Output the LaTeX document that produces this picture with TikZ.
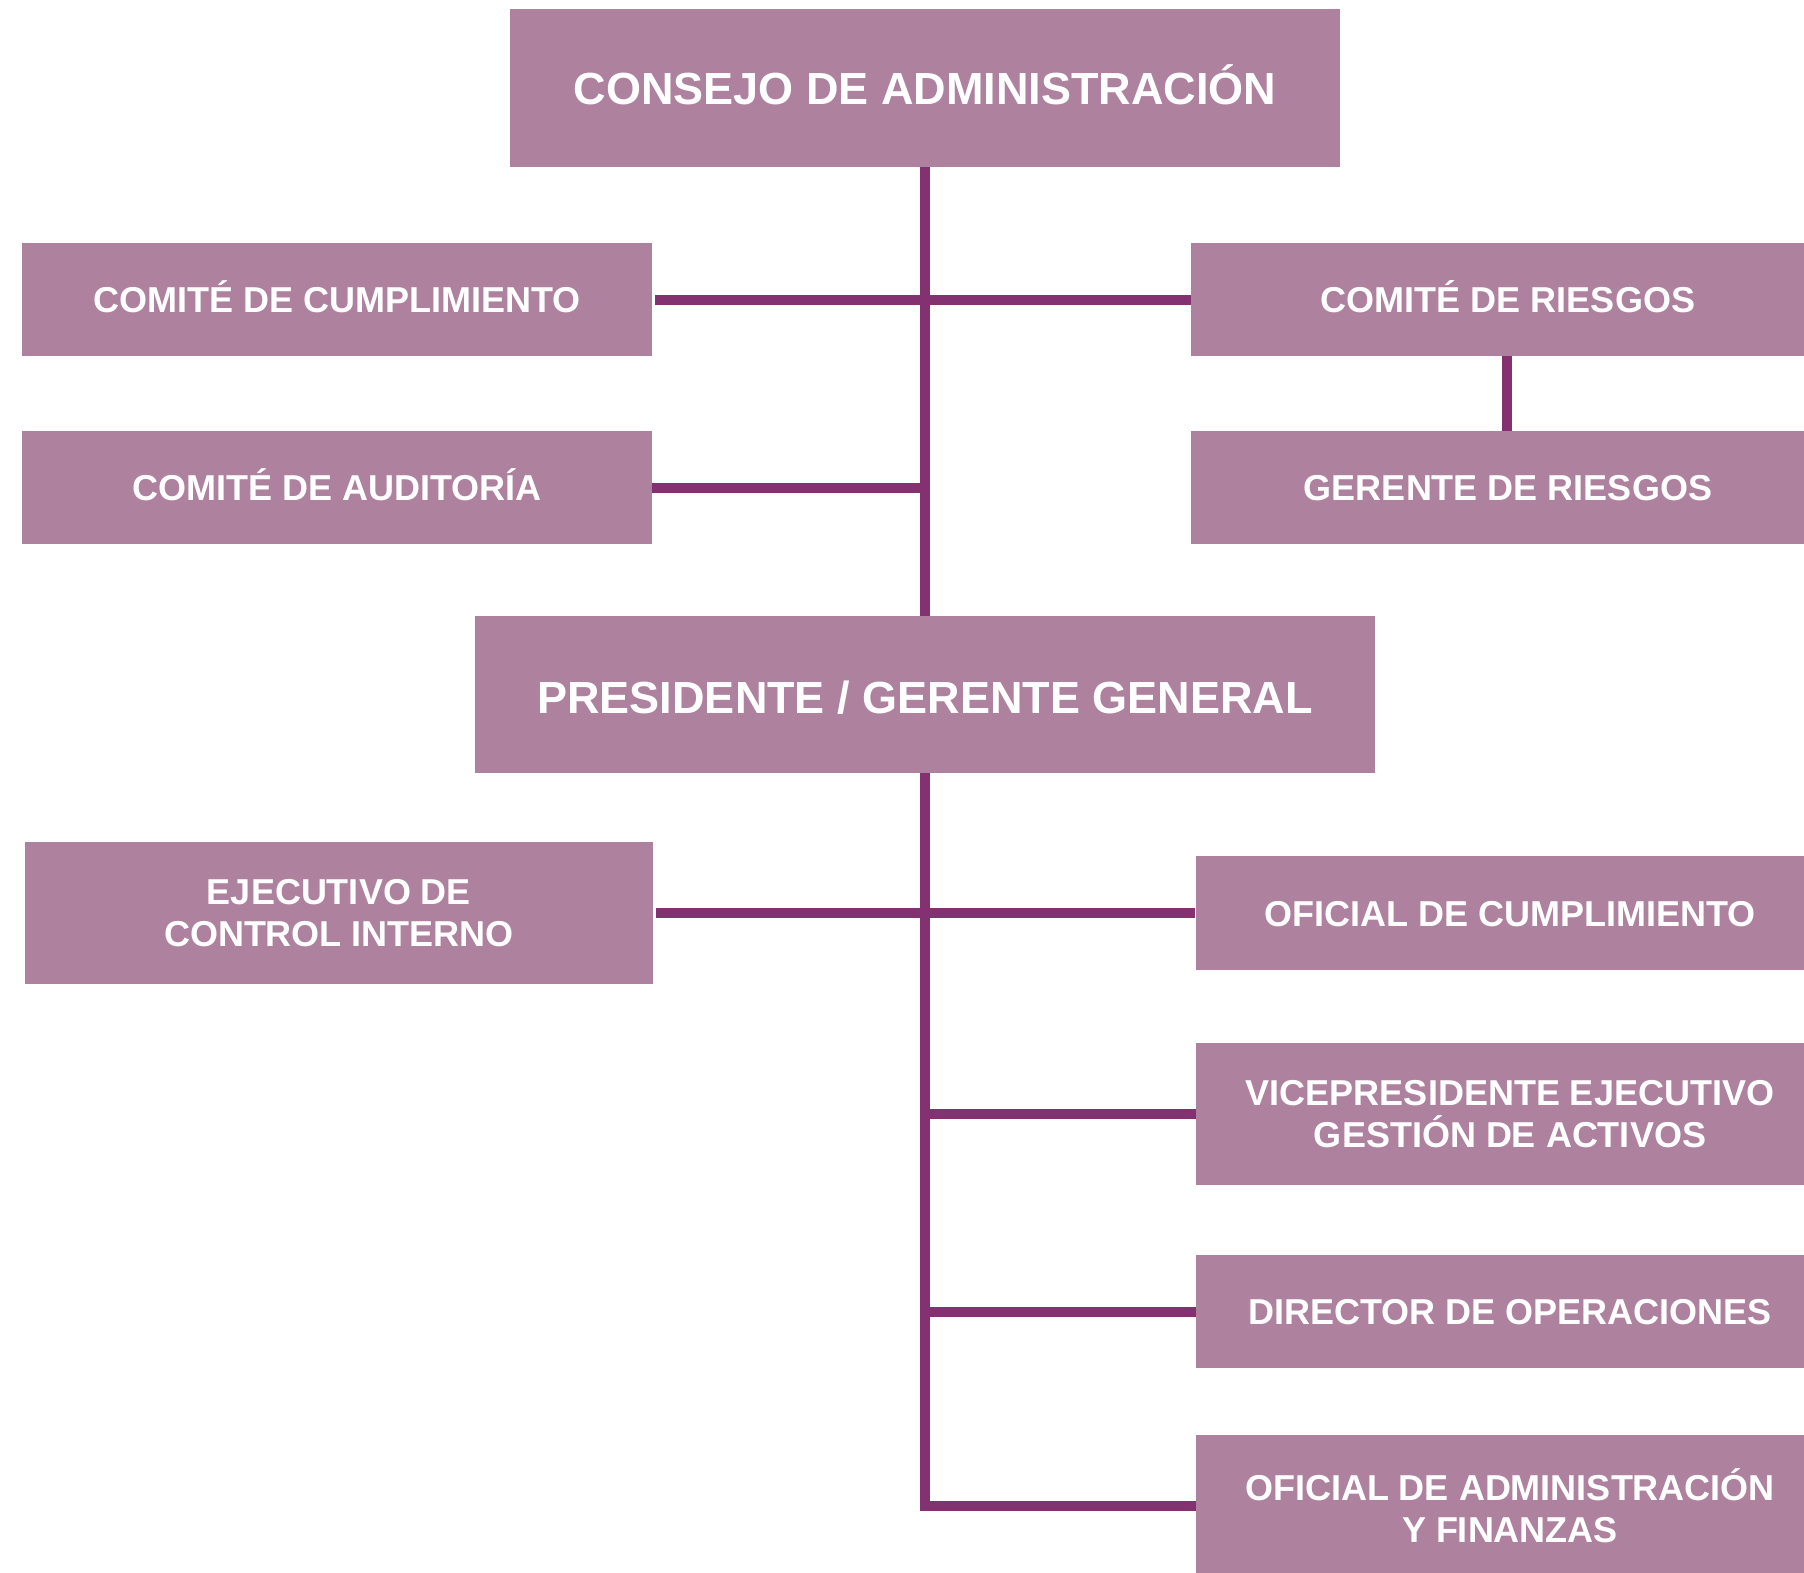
\documentclass[tikz,border=0pt]{standalone}
\usepackage{fontspec}
\setmainfont{Liberation Sans}
\definecolor{boxfill}{RGB}{174,129,158}
\definecolor{linecol}{RGB}{131,49,113}
\begin{document}
\begin{tikzpicture}[x=1pt,y=-1pt,
  box/.style={fill=boxfill, draw=none, text=white, inner sep=0pt,
    font=\bfseries\fontsize{36}{42}\selectfont},
  one/.style={box, text height=26pt, text depth=0pt},
  two/.style={box, align=center},
  big/.style={box, font=\bfseries\fontsize{45}{54}\selectfont, text height=32pt, text depth=0pt},
  conn/.style={draw=linecol, line width=10pt, line join=miter, line cap=butt}]
\useasboundingbox (0,0) rectangle (1804,1572);
\clip (0,0) rectangle (1804,1572);

\node[big, minimum width=830pt, minimum height=158pt] (consejo) at (925,88) {CONSEJO DE ADMINISTRACIÓN};
\node[one, minimum width=630pt, minimum height=113pt] (ccump) at (337,299.5) {COMITÉ DE CUMPLIMIENTO};
\node[one, minimum width=630pt, minimum height=113pt] (caud) at (337,487.5) {COMITÉ DE AUDITORÍA};
\node[one, minimum width=634pt, minimum height=113pt] (criesgos) at (1508,299.5) {COMITÉ DE RIESGOS};
\node[one, minimum width=634pt, minimum height=113pt] (griesgos) at (1508,487.5) {GERENTE DE RIESGOS};
\node[big, minimum width=900pt, minimum height=157pt] (pres) at (925,694.5) {\raisebox{-3pt}{PRESIDENTE / GERENTE GENERAL}};
\node[two, minimum width=628pt, minimum height=142pt] (ejec) at (339,913) {EJECUTIVO DE\\CONTROL INTERNO};
\node[one, minimum width=628pt, minimum height=114pt] (ocump) at (1510,913) {OFICIAL DE CUMPLIMIENTO};
\node[two, minimum width=628pt, minimum height=142pt] (vp) at (1510,1114) {VICEPRESIDENTE EJECUTIVO\\GESTIÓN DE ACTIVOS};
\node[one, minimum width=628pt, minimum height=113pt] (dir) at (1510,1311.5) {DIRECTOR DE OPERACIONES};
\node[two, minimum width=628pt, minimum height=142pt] (adm) at (1510,1506) {OFICIAL DE ADMINISTRACIÓN\\Y FINANZAS};

\draw[conn] (consejo.south) -- (pres.north);
\draw[conn] ([xshift=3pt]ccump.east) -- (criesgos.west);
\draw[conn] (caud.east) -- (caud.east -| consejo.south);
\draw[conn] ([xshift=-1pt]criesgos.south) -- ([xshift=-1pt]griesgos.north);
\draw[conn] (pres.south) |- (adm.west);
\draw[conn] ([xshift=3pt]ejec.east) -- ([xshift=-1pt]ocump.west);
\draw[conn] (vp.west -| pres.south) -- (vp.west);
\draw[conn] (dir.west -| pres.south) -- (dir.west);
\end{tikzpicture}
\end{document}
